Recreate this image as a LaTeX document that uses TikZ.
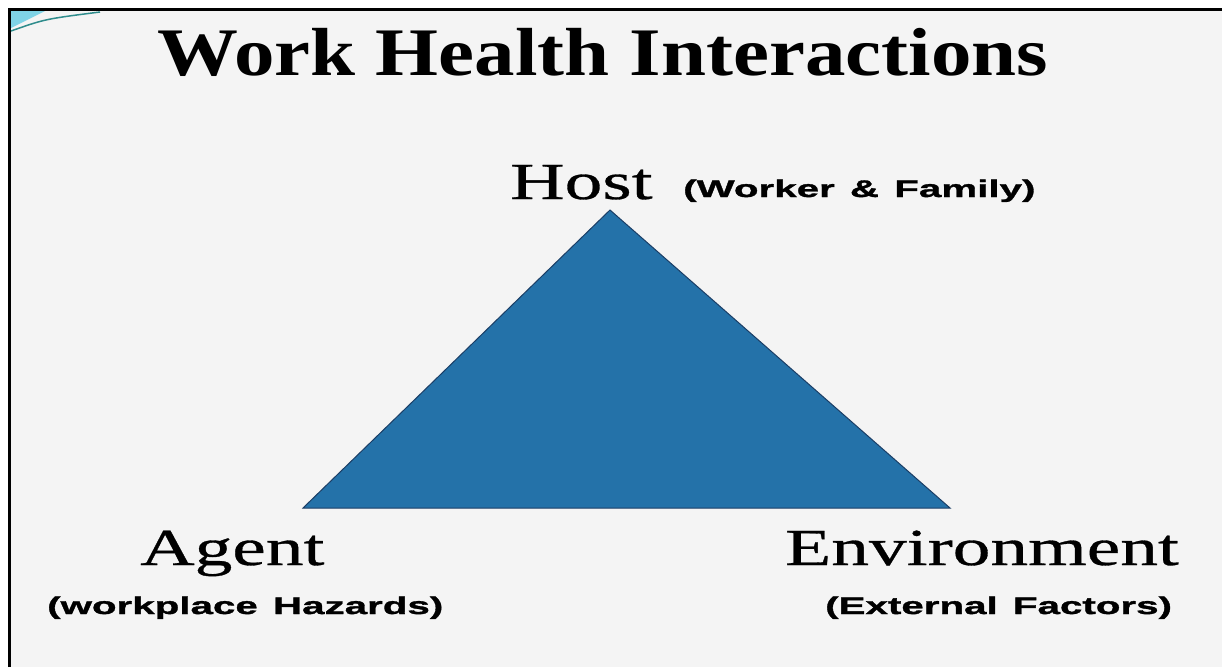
\documentclass[tikz,border=0pt]{standalone}
\usepackage{fontspec}
\setmainfont{Liberation Serif}
\newfontfamily\titlefont[FakeStretch=1.19]{Liberation Serif Bold}
\newfontfamily\wordfont[FakeStretch=1.45,FakeBold=0.6]{Liberation Serif}
\newfontfamily\labfont[FakeStretch=1.68,FakeBold=1.4]{Liberation Sans Bold}
\definecolor{slidebg}{HTML}{F4F4F4}
\definecolor{tribg}{HTML}{2472A9}
\definecolor{triedge}{HTML}{1B3E66}
\definecolor{swoosha}{HTML}{2E8C8C}
\definecolor{swooshb}{HTML}{7FD3E6}
\begin{document}
\begin{tikzpicture}[x=1pt,y=-1pt,
    bigword/.style={inner sep=0pt,anchor=base west,font=\wordfont\fontsize{52}{56}\selectfont},
    smallword/.style={inner sep=0pt,anchor=base west,font=\labfont\fontsize{24}{28}\selectfont}]
      \useasboundingbox (0,0) rectangle (1222,667);
      \fill[slidebg] (9,9) rectangle (1222,667);
      \draw[line width=3pt] (9.5,667) -- (9.5,9.5) -- (1222,9.5);
      % corner swoosh
      \fill[swooshb] (11,11) -- (11,28) .. controls (25,21) .. (45,11) -- cycle;
      \draw[swoosha,line width=1.5pt] (11,31) .. controls (45,19) .. (100,12);

      \node (title) [inner sep=0pt,anchor=base,font=\titlefont\fontsize{68}{72}\selectfont]
        at (603,75) {Work Health Interactions};

      \coordinate (hostpt) at (610,210);
      \coordinate (agentpt) at (303,508);
      \coordinate (envpt) at (950,508);
      \filldraw[fill=tribg,draw=triedge,line width=1pt,line join=miter]
        (hostpt) -- (agentpt) -- (envpt) -- cycle;

      \node (host) [bigword] at (510,199) {Host};
      \node (hostsub) [smallword] at (683,197) {(Worker \,\&\, Family)};
      \node (agent) [bigword] at (140,565) {Agent};
      \node (agentsub) [smallword] at (47,614) {(workplace \,Hazards)};
      \node (env) [bigword] at (785,565) {Environment};
      \node (envsub) [smallword] at (825,614) {(External \,Factors)};
\end{tikzpicture}
\end{document}
